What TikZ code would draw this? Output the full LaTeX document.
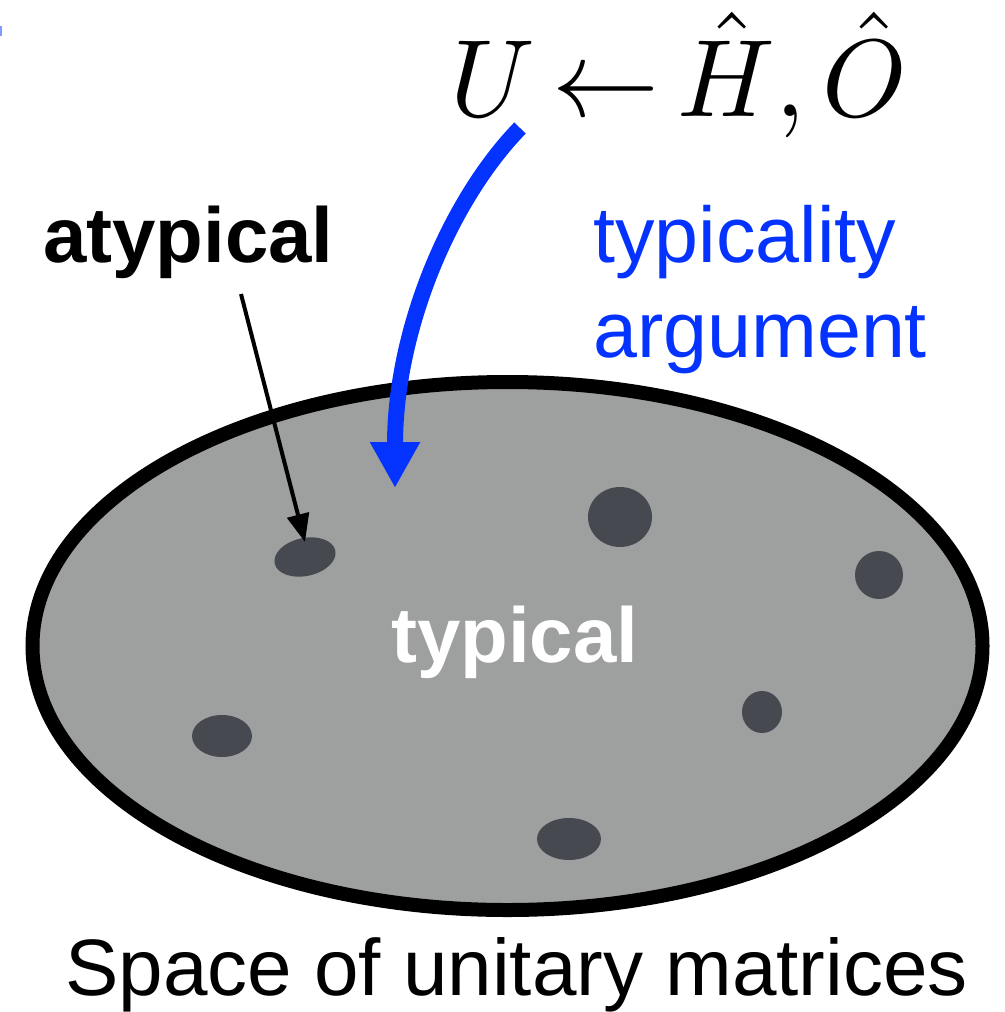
\documentclass[tikz,border=0pt]{standalone}
\usepackage{fontspec}
\setmainfont{Liberation Sans}
\usetikzlibrary{arrows.meta}
\definecolor{regionfill}{HTML}{9DA09F}
\definecolor{blobfill}{HTML}{464950}
\definecolor{argblue}{HTML}{0433FF}
\tikzset{
  lbl/.style={inner sep=0pt, anchor=base west, font=\fontsize{79}{95}\selectfont},
  blob/.style={fill=blobfill, draw=none},
}
\begin{document}
\begin{tikzpicture}[x=1pt,y=-1pt]
\useasboundingbox (0,0) rectangle (1004,1012);
% stray mark at top-left edge
\fill[argblue!50] (0,26) rectangle (2,36);
% region
\draw[line width=14pt, fill=regionfill] (507.5,646) ellipse [x radius=475, y radius=264];
% blobs
\fill[blob, rotate around={12:(305,557)}] (305,557) ellipse [x radius=31, y radius=19];
\fill[blob] (620,517) ellipse [x radius=32, y radius=30];
\fill[blob] (879,575) ellipse [x radius=24, y radius=24];
\fill[blob] (222,736) ellipse [x radius=30, y radius=21];
\fill[blob] (762,712) ellipse [x radius=20, y radius=21];
\fill[blob] (569,839) ellipse [x radius=32, y radius=21];
% texts
\node[inner sep=0pt, anchor=base west] (formula) at (450,116) {\scalebox{10.7}[11.0]{$U\mkern-2mu\leftarrow\mkern-2mu\hat H,\hat O$}};
\node[lbl, font=\fontsize{78}{94}\selectfont\bfseries] (atyp) at (43,262) {atypical};
\node[lbl, text=argblue] (typl) at (593,262) {typicality};
\node[lbl, text=argblue] (arg) at (593,357) {argument};
\node[lbl, font=\fontsize{78}{94}\selectfont\bfseries, text=white] (typ) at (391,662) {typical};
\node[lbl, font=\fontsize{80}{96}\selectfont] (space) at (65,995) {Space of unitary matrices};
% arrows
\coordinate (bstart) at (520,128);
\coordinate (btip) at (395,488);
\draw[argblue, line width=16pt, -{Triangle[width=47pt,length=46pt]}]
  (bstart) .. controls (450,200) and (395,330) .. (btip);
\coordinate (kstart) at (241,294);
\coordinate (ktip) at (305,542);
\draw[line width=4pt, -{Triangle[width=22pt,length=28pt]}] (kstart) -- (ktip);
\end{tikzpicture}
\end{document}
